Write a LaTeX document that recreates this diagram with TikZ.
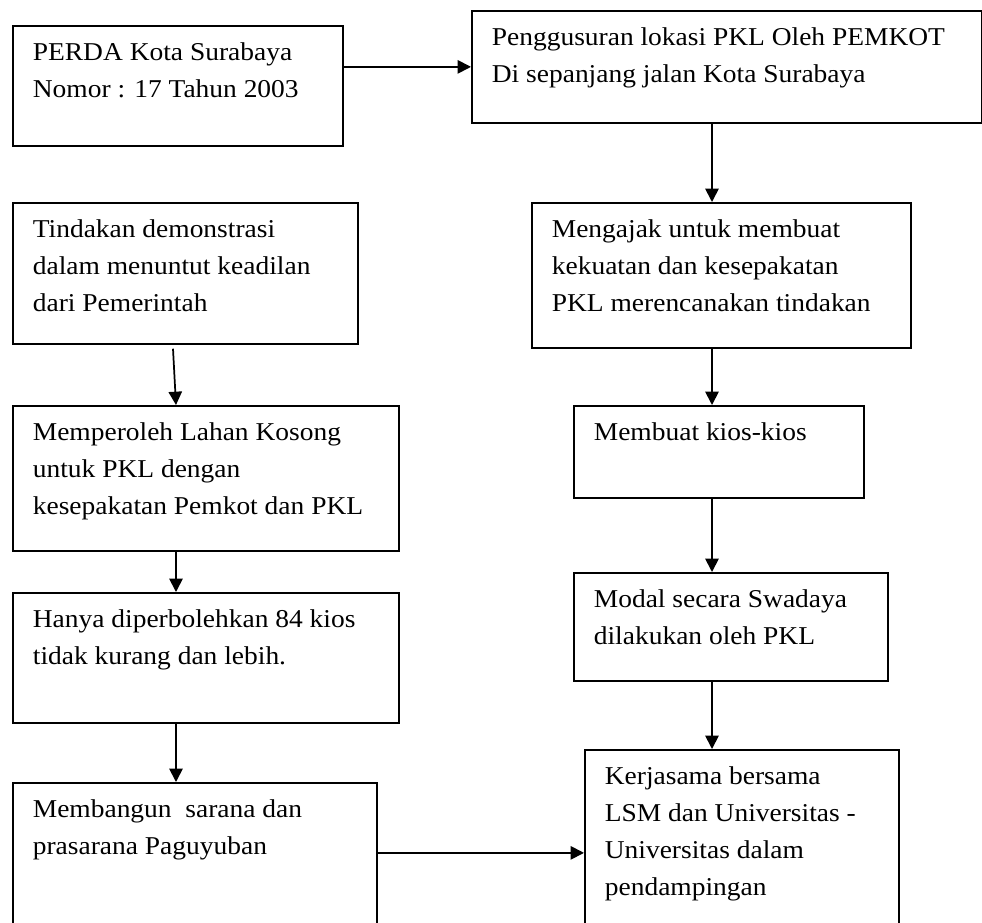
\documentclass[tikz,border=0pt]{standalone}
\usepackage{fontspec}
\usepackage{graphicx}
\setmainfont{Liberation Serif}
\usetikzlibrary{arrows.meta,calc}
\newdimen\pxd \pxd=0.75pt
\newcommand{\boxtext}[3]{\parbox[t][#2\pxd][t]{#1\pxd}{\rule{0pt}{35\pxd}\scalebox{1.07}[1]{\begin{tabular}[t]{@{}l@{}}#3\end{tabular}}}}
\tikzset{
    box/.style={draw, line width=1.3pt, anchor=north west, inner xsep=15pt, inner ysep=0pt,
        font=\fontsize{19.25pt}{27.75pt}\selectfont},
    edge/.style={draw, line width=1.3pt, -{Triangle[length=10pt, width=10pt]}}
}

\begin{document}
\begin{tikzpicture}[x=0.75pt, y=-0.75pt]
    \useasboundingbox (0,0) rectangle (982,922);
    \clip (0,0) rectangle (982,922);

    % Nodes
    \node[box] (perda) at (12,25) {\boxtext{290}{120}{PERDA Kota Surabaya\\Nomor : 17 Tahun 2003}};
    \node[box] (gusur) at (471,10) {\boxtext{470}{112}{Penggusuran lokasi PKL Oleh PEMKOT\\Di sepanjang jalan Kota Surabaya}};
    \node[box] (tindakan) at (12,202) {\boxtext{305}{141}{Tindakan demonstrasi\\dalam menuntut keadilan\\dari Pemerintah}};
    \node[box] (mengajak) at (531,202) {\boxtext{339}{145}{Mengajak untuk membuat\\kekuatan dan kesepakatan\\PKL merencanakan tindakan}};
    \node[box] (memperoleh) at (12,405) {\boxtext{346}{145}{Memperoleh Lahan Kosong\\untuk PKL dengan\\kesepakatan Pemkot dan PKL}};
    \node[box] (kios) at (573,405) {\boxtext{250}{92}{Membuat kios-kios}};
    \node[box] (hanya) at (12,592) {\boxtext{346}{130}{Hanya diperbolehkan 84 kios\\tidak kurang dan lebih.}};
    \node[box] (modal) at (573,572) {\boxtext{274}{108}{Modal secara Swadaya\\dilakukan oleh PKL}};
    \node[box] (membangun) at (12,782) {\boxtext{324}{160}{Membangun\ \ sarana dan\\prasarana Paguyuban}};
    \node[box] (kerjasama) at (584,749) {\boxtext{274}{206}{Kerjasama bersama\\LSM dan Universitas -\\Universitas dalam\\pendampingan}};

    \coordinate (lcol) at (176,0);
    \coordinate (rcol) at (712,0);

    % edges
    \draw[edge] (perda.east |- gusur.west) -- (gusur.west);
    \draw[edge] (gusur.south -| rcol) -- (mengajak.north -| rcol);
    \draw[edge] (mengajak.south -| rcol) -- (kios.north -| rcol);
    \draw[edge] (kios.south -| rcol) -- (modal.north -| rcol);
    \draw[edge] (modal.south -| rcol) -- (kerjasama.north -| rcol);
    \draw[edge] ($(tindakan.south -| lcol)+(-3,4)$) -- (memperoleh.north -| lcol);
    \draw[edge] (memperoleh.south -| lcol) -- (hanya.north -| lcol);
    \draw[edge] (hanya.south -| lcol) -- (membangun.north -| lcol);
    \draw[edge] (membangun.east |- kerjasama.west) -- (kerjasama.west);
\end{tikzpicture}
\end{document}
